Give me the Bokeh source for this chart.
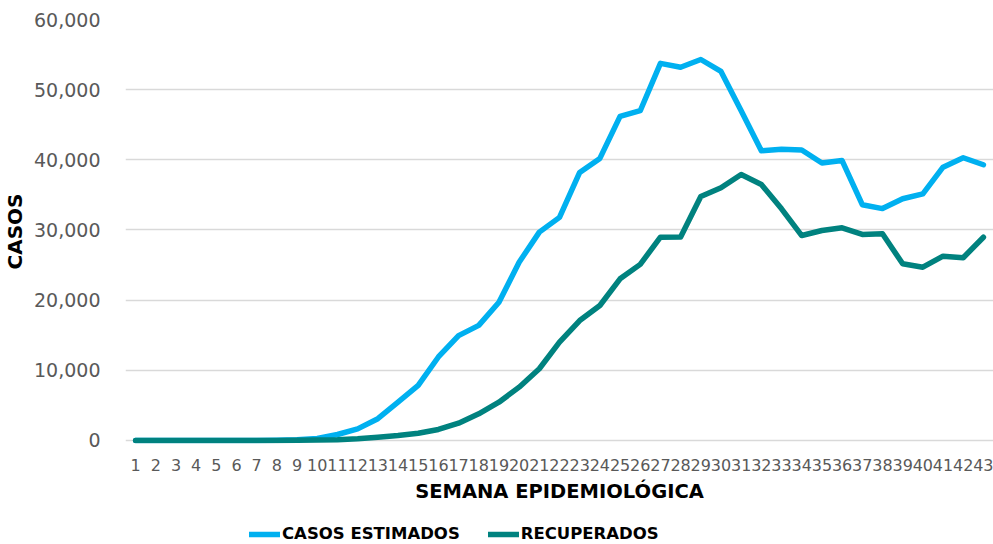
from bokeh.plotting import figure
from bokeh.layouts import column
from bokeh.models import Range1d, FixedTicker, NumeralTickFormatter, Legend, LegendItem
from bokeh.embed import file_html
from bokeh.resources import INLINE

semanas = [str(i) for i in range(1, 44)]
casos_estimados = [0, 0, 0, 0, 0, 0, 0, 50, 100, 300, 850, 1650, 3100, 5450, 7850,
                   11900, 14950, 16400, 19700, 25400, 29700, 31800, 38200, 40200, 46200,
                   47000, 53750, 53200, 54300, 52600, 47000, 41300, 41500, 41400, 39550,
                   39900, 33600, 33050, 34450, 35150, 38950, 40300, 39300]
recuperados = [0, 0, 0, 0, 0, 0, 0, 0, 20, 60, 120, 250, 470, 710, 1040,
               1570, 2470, 3800, 5460, 7600, 10220, 14010, 17100, 19240, 23040,
               25100, 28970, 29000, 34770, 36010, 37900, 36480, 33020, 29210, 29930,
               30310, 29360, 29460, 25180, 24700, 26270, 26040, 28970]
y_ticks = [0, 10000, 20000, 30000, 40000, 50000, 60000]
series_names = ["CASOS ESTIMADOS", "RECUPERADOS"]

FONT = "DejaVu Sans"
GRAY = "#595959"
COLORS = ["#00B0F0", "#00827F"]

p = figure(x_range=semanas, y_range=Range1d(-430, 60000), width=993, height=513,
           output_backend="svg", toolbar_location=None,
           min_border_top=19, min_border_right=0, min_border_left=110, min_border_bottom=70)
p.outline_line_color = None

for ys, c in zip([casos_estimados, recuperados], COLORS):
    p.line(semanas, ys, line_color=c, line_width=5.5, line_join="round", line_cap="round")

p.yaxis.ticker = FixedTicker(ticks=y_ticks)
p.yaxis.formatter = NumeralTickFormatter(format="0,0")
p.yaxis.axis_line_color = None
p.yaxis.major_tick_line_color = None
p.yaxis.minor_tick_line_color = None
p.yaxis.major_label_text_font = FONT
p.yaxis.major_label_text_font_size = "19px"
p.yaxis.major_label_text_color = GRAY
p.yaxis.major_label_standoff = 19
p.yaxis.axis_label = "CASOS"
p.yaxis.axis_label_text_font = FONT
p.yaxis.axis_label_text_font_style = "bold"
p.yaxis.axis_label_text_font_size = "20px"
p.yaxis.axis_label_text_color = "#000000"
p.yaxis.axis_label_standoff = 4

p.xaxis.axis_line_color = None
p.xaxis.major_tick_line_color = None
p.xaxis.minor_tick_line_color = None
p.xaxis.major_label_text_font = FONT
p.xaxis.major_label_text_font_size = "16px"
p.xaxis.major_label_text_color = GRAY
p.xaxis.major_label_standoff = 9
p.xaxis.axis_label = "SEMANA EPIDEMIOLÓGICA"
p.xaxis.axis_label_text_font = FONT
p.xaxis.axis_label_text_font_style = "bold"
p.xaxis.axis_label_text_font_size = "19.5px"
p.xaxis.axis_label_text_color = "#000000"
p.xaxis.axis_label_standoff = 6

p.xgrid.grid_line_color = None
p.ygrid.grid_line_color = "#D9D9D9"
p.ygrid.grid_line_width = 1.5

# legend strip below the chart (same series, drawn out of view so only the legend shows)
lg = figure(x_range=semanas, y_range=Range1d(-2, -1), width=993, height=30,
            output_backend="svg", toolbar_location=None, min_border=0)
lg.outline_line_color = None
lg.axis.visible = False
lg.grid.visible = False
items = []
for ys, c, name in zip([casos_estimados, recuperados], COLORS, series_names):
    r = lg.line(semanas, ys, line_color=c, line_width=5.5, line_cap="round")
    items.append(LegendItem(label=name, renderers=[r]))

legend = Legend(items=items, orientation="horizontal", location=(124, 0),
                label_text_font=FONT, label_text_font_style="bold",
                label_text_font_size="16.5px", label_text_color="#000000",
                glyph_width=31, glyph_height=18, label_standoff=2, spacing=28,
                padding=0, margin=0, border_line_color=None, background_fill_alpha=0)
lg.add_layout(legend, "center")

layout = column(p, lg, spacing=0)
open("out.html", "w").write(file_html(layout, INLINE))
